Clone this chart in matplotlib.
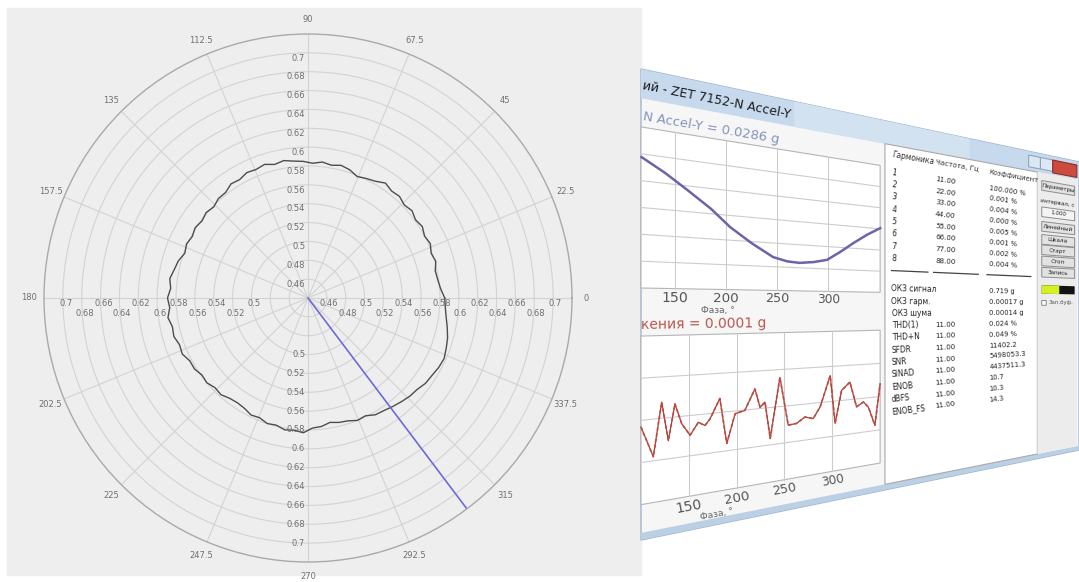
import numpy as np
import matplotlib
matplotlib.use("Agg")
import matplotlib.pyplot as plt
from matplotlib.transforms import Transform, BboxTransform, Bbox
from matplotlib.patches import Rectangle
from matplotlib.lines import Line2D

# ---------------- polar chart data ----------------
curve_angle = np.arange(0, 360, 4)
curve_r = [0.585, 0.581, 0.579, 0.578, 0.581, 0.579, 0.582, 0.580, 0.583, 0.581,
           0.584, 0.582, 0.585, 0.584, 0.587, 0.583, 0.581, 0.579, 0.583, 0.585,
           0.583, 0.585, 0.583, 0.585, 0.586, 0.588, 0.586, 0.589, 0.587, 0.588,
           0.585, 0.586, 0.582, 0.582, 0.579, 0.581, 0.579, 0.581, 0.579, 0.581,
           0.579, 0.583, 0.585, 0.588, 0.586, 0.589, 0.587, 0.590, 0.587, 0.588,
           0.585, 0.586, 0.582, 0.582, 0.579, 0.580, 0.577, 0.578, 0.575, 0.574,
           0.575, 0.578, 0.577, 0.580, 0.579, 0.582, 0.581, 0.583, 0.578, 0.577,
           0.574, 0.576, 0.577, 0.580, 0.579, 0.583, 0.584, 0.586, 0.588, 0.590,
           0.591, 0.594, 0.595, 0.597, 0.598, 0.596, 0.594, 0.591, 0.588, 0.586]
pointer_angle = 307
r_ticks = [0.46, 0.48, 0.50, 0.52, 0.54, 0.56, 0.58, 0.60, 0.62, 0.64, 0.66, 0.68, 0.70]
theta_ticks = [0, 22.5, 45, 67.5, 90, 112.5, 135, 157.5, 180, 202.5, 225, 247.5, 270, 292.5, 315, 337.5]

# ---------------- screenshot data ----------------
upper_phase = [117, 140, 162, 185, 204, 225, 246, 260, 272, 286, 299, 312, 325, 338, 351]
upper_val = [0.0282, 0.021, 0.0126, 0.003, -0.0071, -0.016, -0.0239, -0.0262, -0.0268,
             -0.0258, -0.0239, -0.018, -0.0113, -0.005, 0.0005]
lower_phase = [100.0, 112.9, 121.6, 128.6, 135.5, 142.5, 151.3, 160.0, 166.9, 172.3, 182.4,
               189.7, 198.4, 208.5, 219.1, 224.5, 229.6, 235.1, 245.2, 253.9, 262.6, 271.3,
               280.0, 287.3, 297.8, 302.9, 309.7, 318.4, 325.3, 332.6, 337.7, 344.5, 350.0]
lower_val = [-0.16, -0.90, 0.39, -0.56, 0.32, -0.18, -0.49, -0.19, -0.29, -0.13, 0.36,
             -0.81, -0.07, -0.01, 0.53, 0.03, 0.16, -0.83, 0.79, -0.53, -0.51, -0.36,
             -0.43, -0.12, 0.74, -0.64, 0.29, 0.51, -0.23, -0.11, -0.28, -0.84, 0.39]
phase_ticks = [150, 200, 250, 300]
table_head = ['Гармоника', 'Частота, Гц', 'Коэффициент']
harm_num = ['1', '2', '3', '4', '5', '6', '7', '8']
harm_freq = ['11.00', '22.00', '33.00', '44.00', '55.00', '66.00', '77.00', '88.00']
harm_coef = ['100.000 %', '0.001 %', '0.004 %', '0.000 %', '0.005 %', '0.001 %', '0.002 %', '0.004 %']
stat_names = ['ОКЗ сигнал', 'ОКЗ гарм.', 'ОКЗ шума', 'THD(1)', 'THD+N', 'SFDR', 'SNR',
              'SINAD', 'ENOB', 'dBFS', 'ENOB_FS']
stat_freq = ['', '', '', '11.00', '11.00', '11.00', '11.00', '11.00', '11.00', '11.00', '11.00']
stat_vals = ['0.719 g', '0.00017 g', '0.00014 g', '0.024 %', '0.049 %', '11402.2',
             '5498053.3', '4437511.3', '10.7', '10.3', '14.3']
side_items = ['Параметры', 'интервал, с', '1.000', 'Линейный', 'Шкала', 'Старт', 'Стоп', 'Запись']

W, H = 1079, 582
fig = plt.figure(figsize=(W / 100, H / 100), dpi=100)
fig.patch.set_facecolor('white')

# gray panel behind the polar chart
fig.add_artist(Rectangle((7 / W, 1 - 575 / H), (641 - 7) / W, (575 - 8) / H,
                         transform=fig.transFigure, color='#eeeeee', zorder=-5))

# ---------------- polar chart ----------------
cx, cy, R = 308, 298, 264
ax = fig.add_axes([(cx - R) / W, (H - cy - R) / H, 2 * R / W, 2 * R / H], projection='polar')
ax.set_facecolor('none')
ax.set_rlim(0.44, 0.72)
ax.set_yticks(r_ticks)
ax.set_yticklabels([])
ax.set_xticks(np.radians(theta_ticks))
ax.set_xticklabels([])
ax.grid(True, color='#d3d3d3', lw=0.8)
ax.spines['polar'].set_edgecolor('#a9a9a9')
ax.spines['polar'].set_linewidth(1.0)

ang = np.radians(np.append(curve_angle, curve_angle[0]))
rr = np.append(curve_r, curve_r[0])
ax.plot(ang, rr, color='#4d4d4d', lw=1.0)
ax.plot([np.radians(pointer_angle)] * 2, [0.44, 0.72], color='#6b6bd8', lw=1.2)

lab_kw = dict(fontsize=6, color='#707070', textcoords='offset points', annotation_clip=False)
for i, r in enumerate(r_ticks):
    s = f'{r:g}'
    ax.annotate(s, xy=(np.pi / 2, r), xytext=(-2, -0.5), ha='right', va='top', **lab_kw)
    dy = -3.6 if i % 2 == 0 else -10.8
    ax.annotate(s, xy=(0, r), xytext=(1.2, dy), ha='center', va='center', **lab_kw)
    if r >= 0.5 - 1e-9:
        ax.annotate(s, xy=(np.pi * 1.5, r), xytext=(-2, 0), ha='right', va='center', **lab_kw)
        ax.annotate(s, xy=(np.pi, r), xytext=(2, dy), ha='center', va='center', **lab_kw)
for t in theta_ticks:
    ax.text(np.radians(t), 0.7355, f'{t:g}', ha='center', va='center', fontsize=6,
            color='#707070', clip_on=False)


# ---------------- skewed screenshot ----------------
X0, WX, TOP0, TOPS, H0, HS = 641, 438, 69, 93, 471, 183


class Keystone(Transform):
    input_dims = 2
    output_dims = 2

    def transform_non_affine(self, pts):
        pts = np.asarray(pts, dtype=float).reshape(-1, 2)
        u, v = pts[:, 0], pts[:, 1]
        x = X0 + u * WX
        y = TOP0 + TOPS * u + v * (H0 - HS * u)
        return np.column_stack([x / W, 1 - y / H])


K = Keystone() + fig.transFigure


def wrect(u0, v0, u1, v1, fc, ec='none', lw=0.8, z=1):
    fig.add_artist(Rectangle((u0, v0), u1 - u0, v1 - v0, transform=K, fc=fc, ec=ec, lw=lw, zorder=z))


def wline(us, vs, color='#c8c8c8', lw=0.8, z=2, **kw):
    fig.add_artist(Line2D(us, vs, transform=K, color=color, lw=lw, zorder=z, **kw))


def wtext(u, v, s, size, color='#222222', ha='left', va='center', **kw):
    sc = (H0 - HS * u) / H0
    rot = -np.degrees(np.arctan((TOPS - HS * v) / WX))
    fig.text(u, v, s, transform=K, fontsize=size * sc, rotation=rot, rotation_mode='anchor',
             ha=ha, va=va, color=color, zorder=5, **kw)


# window body and frame
wrect(0, 0, 1, 1, '#f6f6f6', ec='#9fb4cc', lw=1.0, z=1)
wrect(0, 0, 1, 0.062, '#c6d9ed', z=2)
wrect(0.35, 0, 0.75, 0.062, '#d3e2f1', z=2)
wrect(0, 0.985, 1, 1, '#bcd0e5', z=2)
wrect(0.885, 0.012, 0.912, 0.05, '#dde8f4', ec='#8ea4be', z=3)
wrect(0.912, 0.012, 0.94, 0.05, '#dde8f4', ec='#8ea4be', z=3)
wrect(0.94, 0.012, 0.995, 0.055, '#cc4a3e', ec='#8a3028', z=3)
wtext(0.004, 0.034, 'ий - ZET 7152-N Accel-Y', 9, color='#1c1c1c')

# upper plot
U_R = 0.546
up = BboxTransform(Bbox([[116.5, -0.045], [351, 0.045]]), Bbox([[0, 0.465], [U_R, 0.123]])) + K
wrect(0, 0.123, U_R, 0.465, 'white', ec='#b5b5b5', z=2)
for p in phase_ticks:
    fig.add_artist(Line2D([p, p], [-0.045, 0.045], transform=up, color='#cccccc', lw=0.8, zorder=3))
for g in [-0.03, -0.015, 0, 0.015, 0.03]:
    fig.add_artist(Line2D([116.5, 351], [g, g], transform=up, color='#cccccc', lw=0.8, zorder=3))
fig.add_artist(Line2D(upper_phase, upper_val, transform=up, color='#6c64a8', lw=1.8, zorder=4))
wtext(0.004, 0.100, 'N Accel-Y = 0.0286 g', 9.5, color='#8493b8')
for p in phase_ticks:
    wtext((p - 116.5) / (351 - 116.5) * U_R, 0.485, str(p), 10.5, color='#555555', ha='center')
wtext(0.176, 0.513, 'Фаза, °', 7, color='#666666', ha='center')

# lower plot
lo = BboxTransform(Bbox([[100, -2], [350, 2]]), Bbox([[0, 0.925], [U_R, 0.567]])) + K
wtext(0.0, 0.543, 'кения = 0.0001 g', 10, color='#b8584e')
wrect(0, 0.567, U_R, 0.925, 'white', ec='#b5b5b5', z=2)
for p in phase_ticks:
    fig.add_artist(Line2D([p, p], [-2, 2], transform=lo, color='#cccccc', lw=0.8, zorder=3))
for g in [-1, 0, 1]:
    fig.add_artist(Line2D([100, 350], [g, g], transform=lo, color='#cccccc', lw=0.8, zorder=3))
fig.add_artist(Line2D(lower_phase, lower_val, transform=lo, color='#8a4a44', lw=0.9, zorder=4))
fig.add_artist(Line2D(lower_phase, lower_val, transform=lo, color='#d0453a', lw=1.2, ls=(0, (2, 1.5)),
                      zorder=4))
for p in phase_ticks:
    wtext((p - 100) / 250 * U_R, 0.948, str(p), 10.5, color='#555555', ha='center')
wtext(0.174, 0.978, 'Фаза, °', 7, color='#666666', ha='center')

# table panel
wrect(0.557, 0.062, 0.905, 0.985, 'white', ec='#a8a8a8', z=2)
cols = [0.572, 0.672, 0.795]
for c, s in zip(cols, table_head):
    wtext(c, 0.088, s, 7, color='#333333')
for i in range(len(harm_num)):
    v = 0.137 + i * 0.0335
    wtext(cols[0], v, harm_num[i], 7)
    wtext(cols[1], v, harm_freq[i], 7)
    wtext(cols[2], v, harm_coef[i], 7)
for a, b in [(0.572, 0.655), (0.668, 0.77), (0.79, 0.89)]:
    wline([a, b], [0.405, 0.405], color='#444444', lw=0.9, z=3)
for i in range(len(stat_names)):
    v = 0.455 + i * 0.0335
    wtext(cols[0], v, stat_names[i], 7)
    wtext(cols[1], v, stat_freq[i], 7)
    wtext(cols[2], v, stat_vals[i], 7)

# side buttons
wrect(0.905, 0.062, 0.995, 0.985, '#ececec', z=2)
side_v = [0.103, 0.153, 0.19, 0.238, 0.281, 0.315, 0.352, 0.389]
for s, v in zip(side_items, side_v):
    if s == 'интервал, с':
        wtext(0.95, v, s, 6.5, ha='center')
        continue
    wrect(0.915, v - 0.016, 0.99, v + 0.016, '#f4f4f4' if s == '1.000' else '#e2e2e2',
          ec='#8c8c8c', lw=0.7, z=3)
    wtext(0.952, v, s, 6.5, ha='center')
wrect(0.915, 0.432, 0.99, 0.46, '#111111', z=3)
wrect(0.915, 0.432, 0.955, 0.46, '#d4f020', z=4)
wrect(0.915, 0.482, 0.925, 0.498, 'white', ec='#777777', lw=0.6, z=3)
wtext(0.93, 0.49, 'Зап.буф.', 6, color='#555555')

fig.savefig('out.png', dpi=100)
